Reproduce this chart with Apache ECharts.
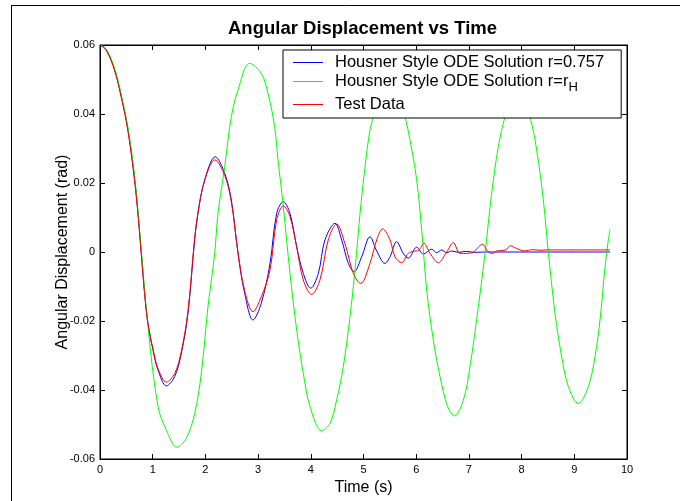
<!DOCTYPE html>
<html>
<head>
<meta charset="utf-8">
<script src="https://cdn.jsdelivr.net/npm/echarts@6/dist/echarts.min.js"></script>
<style>
  html, body { margin: 0; padding: 0; background: #fff; }
  #chart { width: 680px; height: 501px; }
</style>
</head>
<body>
<div id="chart"></div>
<script>
// values (time in s, angle in rad)
const blueT = [0, 0.12, 0.278, 0.405, 0.531, 0.658, 0.721, 0.784, 0.847, 0.91, 1.006, 1.101, 1.259, 1.417, 1.543, 1.669, 1.796, 1.859, 1.986, 2.188, 2.366, 2.492, 2.619, 2.745, 2.903, 3.06, 3.226, 3.353, 3.479, 3.605, 3.732, 3.858, 3.997, 4.143, 4.269, 4.459, 4.586, 4.712, 4.82, 4.965, 5.123, 5.25, 5.408, 5.503, 5.629, 5.755, 5.85, 6.009, 6.135, 6.293, 6.388, 6.483, 6.578, 6.674, 6.8, 6.95, 7.1, 7.35, 9.68];
const blueY = [0.06, 0.0586, 0.0528, 0.045, 0.0354, 0.0209, 0.0112, -0.0004, -0.012, -0.0207, -0.0284, -0.0342, -0.0388, -0.0361, -0.0294, -0.0178, 0.0035, 0.0112, 0.0209, 0.0276, 0.0228, 0.0151, -0.0004, -0.012, -0.0197, -0.0149, -0.0033, 0.0112, 0.0146, 0.0112, 0.0015, -0.0062, -0.0105, -0.0062, 0.0035, 0.0083, 0.0035, -0.0033, -0.0057, -0.0014, 0.0044, 0.0003, -0.0033, -0.0014, 0.003, -0.0004, -0.0018, 0.0014, -0.0006, 0.0008, -0.0002, 0.0006, -0.0002, 0.0003, -0.0001, 0.0002, -0.0001, 0, 0];

const greenT = [0, 0.12, 0.278, 0.405, 0.531, 0.658, 0.784, 0.91, 1.101, 1.259, 1.461, 1.638, 1.796, 1.922, 2.049, 2.176, 2.239, 2.366, 2.492, 2.619, 2.84, 3.06, 3.187, 3.314, 3.378, 3.479, 3.605, 3.732, 3.858, 3.985, 4.206, 4.364, 4.49, 4.617, 4.744, 4.839, 4.934, 5.029, 5.123, 5.187, 5.3, 5.48, 5.66, 5.788, 5.882, 6.009, 6.104, 6.199, 6.325, 6.452, 6.59, 6.724, 6.895, 7.021, 7.179, 7.306, 7.432, 7.558, 7.685, 7.8, 7.92, 8.04, 8.159, 8.286, 8.412, 8.507, 8.634, 8.76, 8.887, 9.077, 9.267, 9.393, 9.488, 9.583, 9.646, 9.678];
const greenY = [0.06, 0.0588, 0.0532, 0.0455, 0.036, 0.0218, 0.0005, -0.0216, -0.0448, -0.0516, -0.0566, -0.054, -0.0468, -0.0352, -0.0159, -0.0004, 0.0112, 0.0247, 0.0392, 0.047, 0.0547, 0.0518, 0.046, 0.0363, 0.0267, 0.0131, -0.0062, -0.0226, -0.0352, -0.0448, -0.0518, -0.0497, -0.0429, -0.0332, -0.0187, -0.0052, 0.0112, 0.0247, 0.0354, 0.0392, 0.046, 0.0495, 0.046, 0.0392, 0.0325, 0.0209, 0.0064, -0.011, -0.0255, -0.0361, -0.0445, -0.0475, -0.0429, -0.0332, -0.0159, -0.0004, 0.017, 0.0305, 0.0392, 0.044, 0.046, 0.044, 0.0392, 0.0296, 0.0151, 0, -0.0178, -0.0303, -0.039, -0.0439, -0.039, -0.0303, -0.0197, -0.0043, 0.0035, 0.0066];

const redT = [0, 0.12, 0.278, 0.405, 0.531, 0.658, 0.721, 0.784, 0.847, 0.91, 1.006, 1.101, 1.259, 1.417, 1.543, 1.669, 1.796, 1.859, 1.986, 2.18, 2.366, 2.492, 2.619, 2.745, 2.903, 3.06, 3.226, 3.353, 3.479, 3.605, 3.732, 3.858, 4.016, 4.174, 4.332, 4.49, 4.649, 4.807, 4.946, 5.123, 5.25, 5.364, 5.503, 5.598, 5.724, 5.85, 5.95, 6.05, 6.148, 6.262, 6.42, 6.578, 6.705, 6.831, 6.926, 7.084, 7.255, 7.369, 7.445, 7.527, 7.685, 7.792, 7.906, 8.064, 8.203, 8.349, 8.5, 9.68];
const redY = [0.06, 0.0584, 0.0525, 0.0447, 0.035, 0.0205, 0.0108, -0.0008, -0.0122, -0.0208, -0.0282, -0.0338, -0.0377, -0.0352, -0.0288, -0.0172, 0.004, 0.0115, 0.0207, 0.0267, 0.0222, 0.0145, -0.0002, -0.0112, -0.0173, -0.013, -0.0052, 0.0093, 0.0134, 0.0102, 0.0015, -0.0081, -0.0123, -0.0081, 0.0035, 0.0081, 0.0024, -0.0062, -0.0091, -0.0033, 0.0035, 0.0067, 0.0035, -0.0014, -0.0031, -0.0004, 0.0002, 0.0005, 0.0025, -0.0004, -0.0031, 0, 0.0027, -0.0004, -0.0004, 0, 0.0022, 0, -0.0004, 0.0003, 0.0005, 0.0018, 0.001, 0.0003, 0.0007, 0.0005, 0.0006, 0.0006];

const seriesNames = [
  'Housner Style ODE Solution r=0.757',
  'Housner Style ODE Solution r=r_H',
  'Test Data'
];

const zip = (t, y) => t.map((v, i) => [v, y[i]]);
const font = '"Liberation Sans", Arial, sans-serif';

const chart = echarts.init(document.getElementById('chart'));

const lineSeries = (name, t, y, color) => ({
  name: name, type: 'line', data: zip(t, y),
  xAxisIndex: 0, yAxisIndex: 0,
  symbol: 'none', smooth: 0.35, animation: false,
  lineStyle: { color: color, width: 1 }, itemStyle: { color: color }
});

chart.setOption({
  backgroundColor: '#fff',
  animation: false,
  title: {
    text: 'Angular Displacement vs Time',
    left: 223, top: 14,
    textStyle: { fontFamily: font, fontSize: 18.5, fontWeight: 'bold', color: '#000' }
  },
  grid: {
    left: 100, right: 53, top: 45, bottom: 42,
    show: true, borderColor: '#000', borderWidth: 1
  },
  legend: {
    orient: 'vertical', left: 283, top: 50,
    data: seriesNames,
    icon: 'rect',
    backgroundColor: '#fff', borderColor: '#000', borderWidth: 1,
    padding: [4, 17, 5, 10],
    itemWidth: 30, itemHeight: 1, itemGap: 2,
    textStyle: {
      fontFamily: font, fontSize: 16.5, color: '#000', lineHeight: 17,
      padding: [0, 0, 0, 7],
      rich: { sub: { fontFamily: font, fontSize: 13, color: '#000', padding: [12, 0, 0, 0] } }
    },
    formatter: name => name.indexOf('r_H') >= 0 ? name.replace('r_H', 'r{sub|H}') : name
  },
  xAxis: [
    {
      type: 'value', min: 0, max: 10, interval: 1, position: 'bottom',
      name: 'Time (s)', nameLocation: 'middle', nameGap: 17,
      nameTextStyle: { fontFamily: font, fontSize: 16, color: '#000' },
      axisLine: { onZero: false, lineStyle: { color: '#000', width: 1 } },
      axisTick: { inside: true, length: 5, lineStyle: { color: '#000' } },
      axisLabel: { fontFamily: font, fontSize: 11, color: '#000', margin: 5 },
      splitLine: { show: false }
    },
    {
      type: 'value', min: 0, max: 10, interval: 1, position: 'top',
      axisLine: { onZero: false, lineStyle: { color: '#000', width: 1 } },
      axisTick: { inside: true, length: 5, lineStyle: { color: '#000' } },
      axisLabel: { show: false }, splitLine: { show: false }
    }
  ],
  yAxis: [
    {
      type: 'value', min: -0.06, max: 0.06, interval: 0.02, position: 'left',
      name: 'Angular Displacement (rad)', nameLocation: 'middle', nameGap: 29,
      nameMoveOverlap: false,
      nameTextStyle: { fontFamily: font, fontSize: 16, color: '#000' },
      axisLine: { onZero: false, lineStyle: { color: '#000', width: 1 } },
      axisTick: { inside: true, length: 5, lineStyle: { color: '#000' } },
      axisLabel: {
        fontFamily: font, fontSize: 11, color: '#000', margin: 5,
        formatter: v => Math.abs(v) < 1e-9 ? '0' : v.toFixed(2)
      },
      splitLine: { show: false }
    },
    {
      type: 'value', min: -0.06, max: 0.06, interval: 0.02, position: 'right',
      axisLine: { onZero: false, lineStyle: { color: '#000', width: 1 } },
      axisTick: { inside: true, length: 5, lineStyle: { color: '#000' } },
      axisLabel: { show: false }, splitLine: { show: false }
    }
  ],
  graphic: [
    { type: 'line', shape: { x1: 11, y1: 5.5, x2: 680, y2: 5.5 }, style: { stroke: '#000', lineWidth: 1 } },
    { type: 'line', shape: { x1: 11.5, y1: 5, x2: 11.5, y2: 501 }, style: { stroke: '#000', lineWidth: 1 } }
  ],
  series: [
    lineSeries(seriesNames[0], blueT, blueY, '#0000ff'),
    lineSeries(seriesNames[1], greenT, greenY, '#00ff00'),
    lineSeries(seriesNames[2], redT, redY, '#ff0000')
  ]
});
</script>
</body>
</html>
